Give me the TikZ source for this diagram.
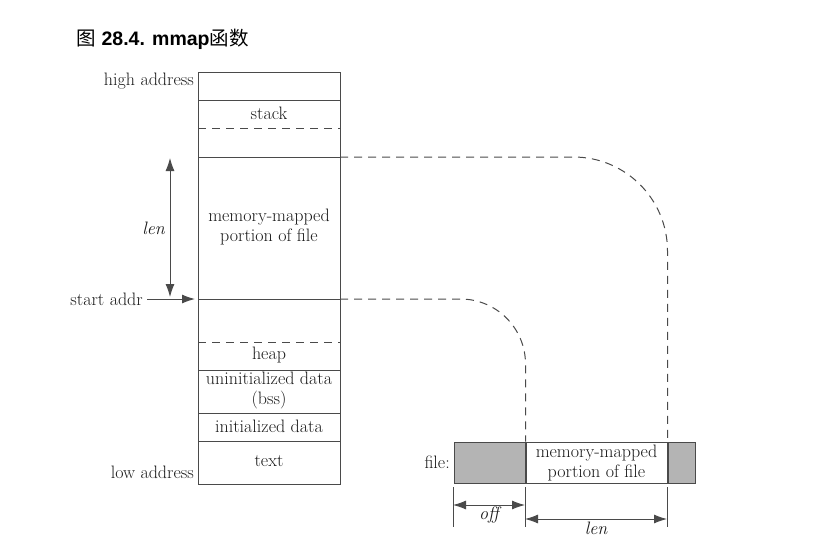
\documentclass[tikz,border=0pt]{standalone}
\usepackage{fontspec}
\newfontfamily\cjk{Noto Sans CJK SC}
\newfontfamily\headfont{Liberation Sans}
\usetikzlibrary{arrows.meta}
\definecolor{edge}{HTML}{4A4A4A}
\definecolor{ink}{HTML}{1A1A1A}
\definecolor{shade}{HTML}{B4B4B4}
\tikzset{
  lbl/.style={font=\fontsize{18}{20}\selectfont, text=ink, inner sep=1pt},
  seg/.style={draw=edge, line width=1pt},
  dash line/.style={draw=edge, line width=1pt, dash pattern=on 8pt off 6pt},
  dim/.style={draw=edge, line width=0.9pt, {Latex[length=13pt,width=9pt]}-{Latex[length=13pt,width=9pt]}}
}
\begin{document}
\begin{tikzpicture}[x=1pt,y=-1pt]
\useasboundingbox (0,0) rectangle (825,542);

\node[anchor=base west, inner sep=0pt, font=\fontsize{19.5}{22}\selectfont] (title) at (76,45)
  {{\cjk 图} {\headfont\bfseries 28.4. mmap}{\cjk 函数}};

\draw[seg] (198,72) rectangle (340,484);
\foreach \y in {100,157,299,370,413,441}
  \draw[seg] (198,\y) -- (340,\y);
\foreach \y in {128,342}
  \draw[dash line] (198,\y) -- (340,\y);

\node[lbl, anchor=east] (high) at (195,81) {high address};
\node[lbl] (stack) at (269,113) {stack};
\node[lbl, align=center] (mapped) at (269,227) {memory-mapped\\portion of file};
\node[lbl] (heap) at (269,355) {heap};
\node[lbl, align=center] (bss) at (269,390) {uninitialized data\\(bss)};
\node[lbl] (data) at (269,426) {initialized data};
\node[lbl] (text) at (269,461) {text};
\node[lbl, anchor=east] (low) at (195,472) {low address};
\node[lbl, anchor=east] (start) at (144,299) {start addr};
\node[lbl, anchor=east, font=\fontsize{18}{20}\selectfont\itshape] (lenup) at (166,228) {len};

\coordinate (top) at (170,158);
\coordinate (bot) at (170,297);
\coordinate (mapend) at (340,157);
\coordinate (startend) at (340,299);
\draw[dim] (top) -- (bot);
\draw[seg, -{Latex[length=13pt,width=9pt]}] (start.east) ++(3,0) -- (195,299);

\node[draw=edge, line width=1pt, fill=shade, minimum width=71pt, minimum height=41pt, inner sep=0pt, anchor=north west] (skip) at (453.5,441.5) {};
\node[draw=edge, line width=1pt, minimum width=141pt, minimum height=41pt, anchor=west, inner sep=0pt, align=center, lbl] (part) at (skip.east) {memory-mapped\\portion of file};
\node[draw=edge, line width=1pt, fill=shade, minimum width=27pt, minimum height=41pt, inner sep=0pt, anchor=west] (rest) at (part.east) {};
\node[lbl, anchor=east] (file) at (451,462) {file:};

\draw[dash line, rounded corners=94pt] (mapend) -| (part.north east);
\draw[dash line, rounded corners=65pt] (startend) -| (part.north west);

\draw[seg, line width=0.8pt] (453,487) -- (453,527);
\draw[seg, line width=0.8pt] (525,487) -- (525,527);
\draw[seg, line width=0.8pt] (667,487) -- (667,527);
\draw[dim] (453,505) -- (525,505);
\draw[dim] (525,519) -- (667,519);
\node[lbl, font=\fontsize{18}{20}\selectfont\itshape] (off) at (489,515) {off};
\node[lbl, font=\fontsize{18}{20}\selectfont\itshape] (lenlow) at (596,528) {len};
\end{tikzpicture}
\end{document}
